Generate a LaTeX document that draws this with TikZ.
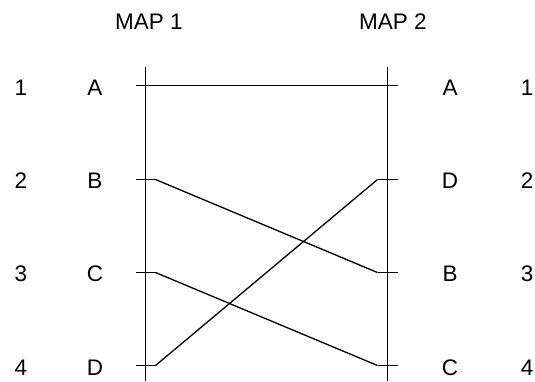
\documentclass[tikz,border=0pt]{standalone}
\usepackage{fontspec}
\setmainfont{Liberation Sans}
\begin{document}
\begin{tikzpicture}[x=1pt,y=-1pt,
  lbl/.style={inner sep=0pt,anchor=center,font=\fontsize{22.5}{26}\selectfont},
  axis/.style={line width=1.6pt},
  tick/.style={line width=1.6pt},
  link/.style={line width=1.3pt}]
\useasboundingbox (0,0) rectangle (535,381);
% axes
\coordinate (LT) at (145.5,67);
\coordinate (LB) at (145.5,381);
\coordinate (RT) at (387.5,67);
\coordinate (RB) at (387.5,381);
\draw[axis] (LT) -- (LB);
\draw[axis] (RT) -- (RB);
% row positions
\foreach \i/\y in {1/85.5,2/179.5,3/272.5,4/365.5}{
  \coordinate (L\i) at (145.5,\y);
  \coordinate (R\i) at (387.5,\y);
  \coordinate (La\i) at (135.5,\y);
  \coordinate (Lb\i) at (155.5,\y);
  \coordinate (Ra\i) at (377.5,\y);
  \coordinate (Rb\i) at (397.5,\y);
}
% headings
\node[lbl] (m1) at (149,22) {MAP 1};
\node[lbl] (m2) at (393,22) {MAP 2};
% left labels
\node[lbl] (ln1) at (21,87.5) {1};
\node[lbl] (ln2) at (21,181) {2};
\node[lbl] (ln3) at (21,274) {3};
\node[lbl] (ln4) at (21,367.5) {4};
\node[lbl] (lA) at (95,87.5) {A};
\node[lbl] (lB) at (95,181) {B};
\node[lbl] (lC) at (95,274) {C};
\node[lbl] (lD) at (95,367.5) {D};
% right labels
\node[lbl] (rA) at (450,87.5) {A};
\node[lbl] (rD) at (450,181) {D};
\node[lbl] (rB) at (450,274) {B};
\node[lbl] (rC) at (450,367.5) {C};
\node[lbl] (rn1) at (527,87.5) {1};
\node[lbl] (rn2) at (527,181) {2};
\node[lbl] (rn3) at (527,274) {3};
\node[lbl] (rn4) at (527,367.5) {4};
% ticks
\foreach \i in {1,2,3,4}{
  \draw[tick] (La\i) -- (Lb\i);
  \draw[tick] (Ra\i) -- (Rb\i);
}
% links
\draw[link] (Lb1) -- (Ra1);
\draw[link] (Lb2) -- (Ra3);
\draw[link] (Lb3) -- (Ra4);
\draw[link] (Lb4) -- (Ra2);
\end{tikzpicture}
\end{document}
